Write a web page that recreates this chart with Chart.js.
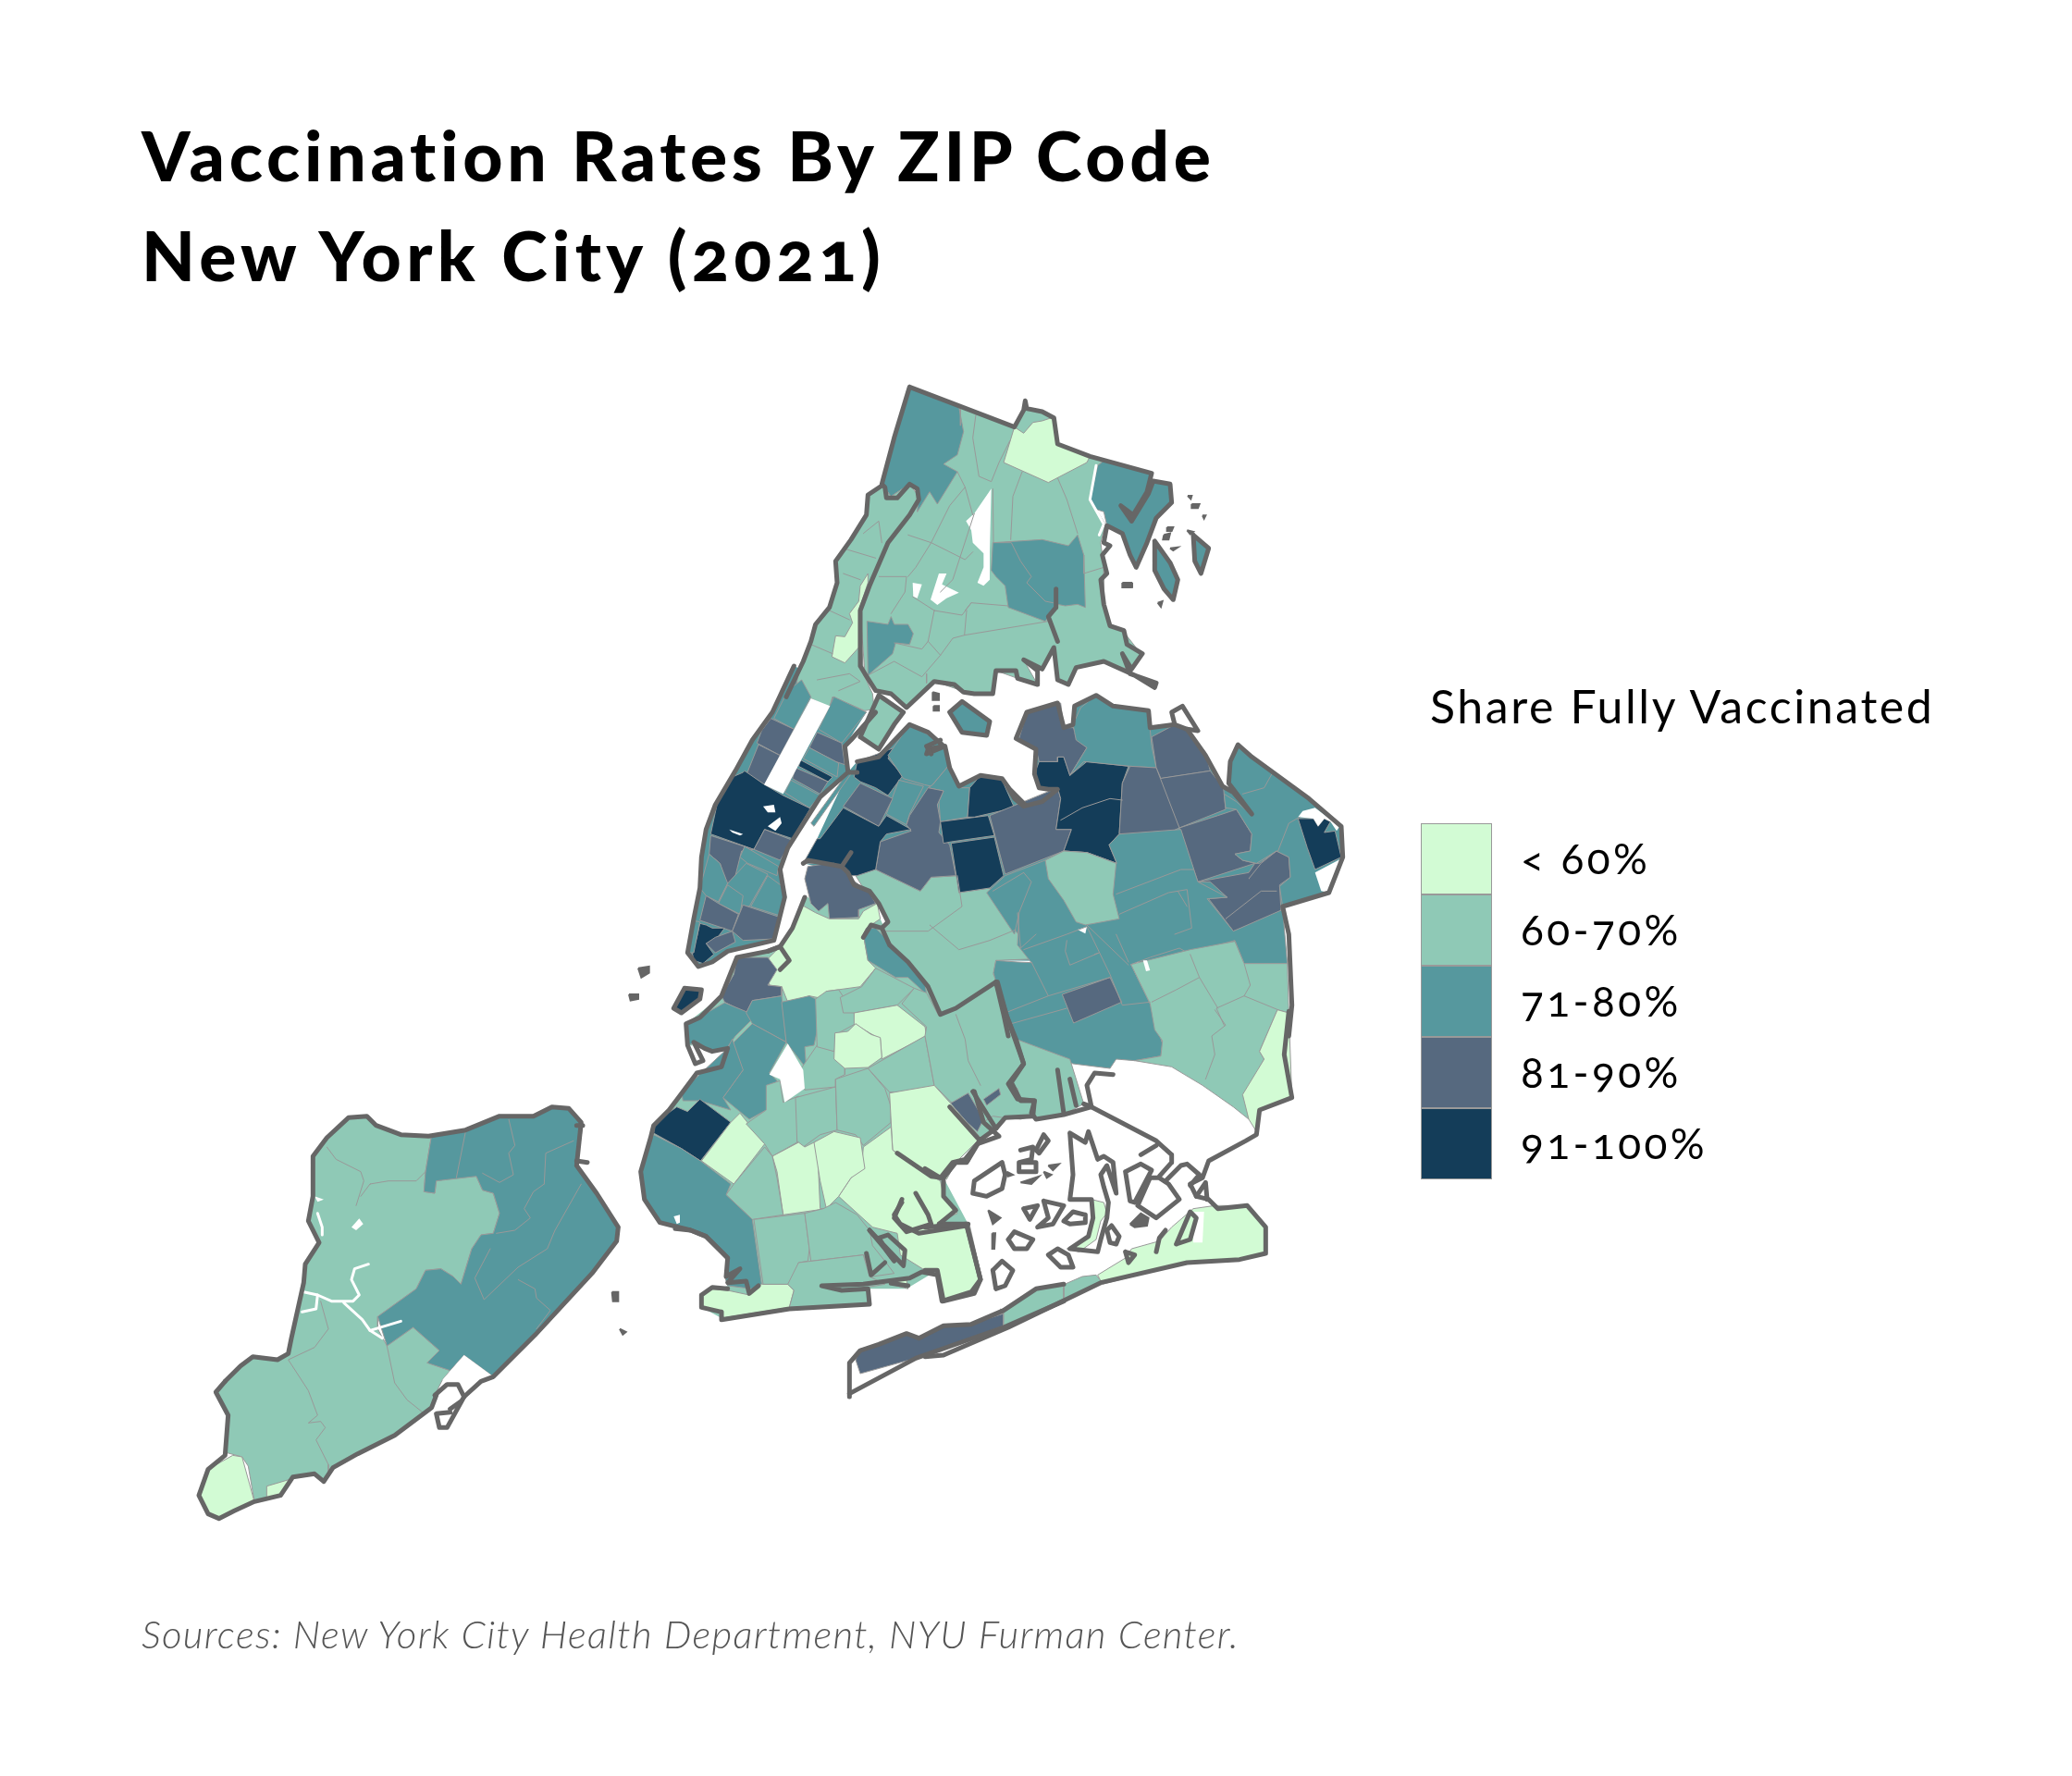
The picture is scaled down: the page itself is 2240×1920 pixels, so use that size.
<!DOCTYPE html>
<html>
<head>
<meta charset="utf-8">
<title>Vaccination Rates By ZIP Code</title>
<script src="https://cdn.jsdelivr.net/npm/chart.js@4"></script>
<style>
  html, body { margin: 0; background: #fff; }
  #page { position: relative; width: 2240px; height: 1920px; overflow: hidden; font-family: Lato, sans-serif; font-variant-numeric: oldstyle-nums; }
  #map { position: absolute; left: 0; top: 0; }
  .txt { position: absolute; white-space: nowrap; line-height: 1; color: #000; }
  .title { left: 153px; font-size: 75px; font-weight: 900; letter-spacing: 4.7px; }
  .ltitle { left: 1546px; top: 738px; font-size: 50px; letter-spacing: 2.6px; }
  .src { left: 153px; top: 1745px; font-size: 42px; font-style: italic; font-weight: 300; color: #555; letter-spacing: 1.3px; }
  .swatch { position: absolute; left: 1536px; width: 77px; height: 77px; box-sizing: border-box; border: 1px solid #999; }
  .lab { left: 1644px; font-size: 46px; letter-spacing: 3.4px; }
</style>
</head>
<body>
<div id="page">
  <canvas id="map" width="2240" height="1920"></canvas>
  <div class="txt title" style="top:130px">Vaccination Rates By ZIP Code</div>
  <div class="txt title" style="top:238px;letter-spacing:5.3px">New York City (2021)</div>
  <div class="txt ltitle">Share Fully Vaccinated</div>
  <div id="legend"></div>
  <div class="txt src">Sources: New York City Health Department, NYU Furman Center.</div>
</div>
<script>
/* legend bands */
const bandLabels = ['< 60%', '60-70%', '71-80%', '81-90%', '91-100%'];
const bandColors = ['#d2fbd4', '#8fc9b6', '#56989e', '#56697f', '#143d59'];

/* map units are reference-page units; each traced sheet has its own origin, traced at 3x */
const sheets = { A: [850, 400], B: [720, 720], C: [1000, 720], D: [680, 960], E: [1000, 1040], F: [200, 1180], G: [730, 1300] };

/* under-paint so the traced zones leave no slivers between them */
const boroughBases = [
  ['B', 2, '415,0 345,150 280,240 225,340 160,450 130,530 115,620 110,720 90,820 70,930 105,975 150,960 200,925 350,890 385,750 370,660 395,590 500,425 590,345 580,260 650,150 540,90 480,30'],
  ['C', 2, '-395,640 -350,560 -250,345 -220,310 -150,295 -50,190 60,250 75,325 110,390 180,355 250,365 290,430 320,455 380,440 430,400 370,395 355,350 360,270 295,235 330,150 430,120 450,200 480,190 485,130 555,95 610,130 725,145 730,200 810,190 850,205 910,290 965,390 1000,410 1060,480 1000,400 985,380 990,310 1015,255 1060,295 1245,430 1350,520 1355,620 1310,735 1160,780 1175,965 230,955 -225,680'],
  ['D', 1, '350,225 450,205 490,190 530,130 570,30 800,50 815,100 850,180 960,310 1005,415 1190,305 1225,415 1280,570 1240,630 1270,690 1315,690 1310,740 1220,745 1135,820 1060,890 1020,940 1100,1090 1145,1270 1120,1315 1020,1340 1000,1240 900,1300 780,1300 780,1350 520,1360 300,1395 235,1360 235,1320 320,1290 320,1200 250,1130 100,1085 50,1010 38,920 70,810 160,680 300,580 320,520 190,510 185,440 300,350']
];

/* [sheet, band, outline] painted in order, later ones on top */
const bronxZones = [
  ['A', 1, '400,55 740,185 770,130 830,135 868,155 880,240 985,280 1035,290 1010,310 985,420 1035,500 1020,560 1030,640 1030,760 1050,830 1095,850 1150,920 1120,975 1030,945 940,965 915,1020 880,1005 868,900 830,970 770,940 815,1020 750,1000 680,975 670,1050 610,1050 570,1040 480,1010 390,1095 340,1050 290,1040 255,985 240,780 270,700 330,560 400,470 430,420 425,385 400,370 340,410 310,370 350,220'],
  ['A', 2, '400,55 560,120 575,200 555,275 510,305 555,330 490,435 465,395 425,460 430,400 400,370 340,410 310,370 350,220'],
  ['A', 0, '740,185 770,205 800,170 830,165 860,155 868,155 880,240 985,280 975,300 850,365 705,300'],
  ['A', 2, '1035,290 1185,335 1170,400 1125,470 1175,400 1190,360 1245,370 1250,430 1200,480 1170,560 1130,640 1115,600 1090,530 1040,505 1030,460 1000,450 985,420 1010,310'],
  ['A', 2, '1320,535 1370,578 1345,660 1325,620'],
  ['A', 2, '1195,555 1245,625 1270,680 1255,745 1225,710 1195,650'],
  ['A', 2, '670,560 830,550 915,570 945,535 965,600 970,770 945,760 905,765 880,760 840,815 720,770 710,700 680,670 665,650'],
  ['A', 2, '262,815 330,825 340,800 350,825 395,825 412,855 400,890 355,885 345,920 265,990']
];
const manhattanZones = [
  ['A', 1, '310,375 265,405 260,470 210,550 160,620 165,690 140,770 95,825 80,880 55,945 40,980 30,1040 80,1065 140,1095 150,1060 255,1105 285,1100 280,1050 250,985 240,780 270,700 330,560 400,470 430,410 400,370 340,410'],
  ['A', 0, '265,660 240,700 235,750 205,790 215,820 190,865 160,862 148,930 190,950 235,900 235,780 265,690'],
  ['B', 1, '630,230 690,95 770,150 740,190 690,270'],
  ['B', 2, '440,45 470,100 415,205 350,170 395,80'],
  ['B', 3, '340,170 415,205 370,290 295,250 310,210'],
  ['B', 3, '300,255 370,290 320,385 262,350'],
  ['B', 2, '545,100 650,150 570,250 495,205'],
  ['B', 3, '490,215 570,250 580,320 550,310 465,265'],
  ['B', 2, '465,265 560,315 555,360 445,300'],
  ['B', 4, '437,305 540,360 525,375 430,325'],
  ['B', 3, '420,330 525,375 500,415 410,365'],
  ['B', 2, '405,370 500,420 465,460 385,410'],
  ['B', 4, '255,340 320,385 380,420 468,462 410,560 320,530 285,595 145,545 165,450 215,360 250,345'],
  ['B', 3, '145,550 285,595 245,600 240,620 220,700 195,705 175,640 140,610'],
  ['B', 3, '320,530 410,565 370,630 285,595'],
  ['B', 2, '255,585 365,650 360,680 265,640 240,620'],
  ['B', 2, '140,610 175,640 200,705 170,765 130,745 110,720'],
  ['B', 2, '260,640 330,675 270,780 170,765 200,705'],
  ['B', 2, '330,680 385,720 370,810 275,780'],
  ['B', 2, '200,710 250,745 240,805 170,770'],
  ['B', 3, '130,745 170,770 235,805 215,860 110,825'],
  ['B', 3, '250,775 370,815 350,885 250,890 215,860'],
  ['B', 4, '110,835 130,840 150,850 190,850 160,890 130,900 155,935 120,965 90,955 85,930 100,880'],
  ['B', 2, '85,825 110,830 90,930 75,930'],
  ['B', 3, '215,860 225,895 160,930 130,900 160,880'],
  ['B', 2, '470,510 590,345 600,350 480,520'],
  ['B', 4, '25,1110 60,1045 115,1050 110,1080 50,1125'],
  ['B', 2, '920,150 960,115 1050,180 1040,225 960,215']
];
const queensZones = [
  ['B', 1, '615,680 680,660 825,730 860,685 945,680 950,735 1050,720 1135,860 1200,950 1070,955 1062,1000 1075,1025 940,1115 890,1135 850,1040 785,960 725,905 700,850 720,830 690,770 640,720'],
  ['B', 4, '620,310 740,265 720,300 768,355 720,420 680,395 630,375 610,360'],
  ['B', 2, '720,290 790,190 900,250 915,325 860,390 838,385 770,365'],
  ['B', 2, '755,370 835,390 790,480 780,515 715,480'],
  ['B', 3, '630,380 735,430 690,520 575,455'],
  ['B', 2, '865,385 915,325 950,395 985,395 978,490 890,505 885,440 900,405 850,395'],
  ['B', 3, '850,395 900,405 880,450 890,505 885,540 920,580 940,680 860,685 825,730 700,670 680,660 695,570 795,535 780,515 790,485'],
  ['B', 4, '575,460 690,520 715,485 795,530 715,545 695,570 680,660 620,680 590,680 545,640 445,640 490,560 500,560'],
  ['B', 4, '890,505 1045,485 1065,550 925,570 900,575'],
  ['B', 4, '925,575 1065,555 1095,680 1050,720 950,735'],
  ['B', 4, '985,395 1020,355 1090,370 1130,460 1000,490 978,490'],
  ['C', 3, '210,485 430,395 440,430 425,530 475,530 450,600 260,675 240,600'],
  ['C', 4, '370,310 430,310 430,295 450,295 470,355 525,310 660,325 640,380 630,545 597,580 622,640 525,605 450,600 475,530 425,530 440,430 430,395 370,395 355,350'],
  ['C', 3, '305,235 330,150 440,120 450,200 480,200 525,265 470,355 450,295 430,295 430,310 370,310 360,270'],
  ['C', 2, '485,215 480,190 505,135 555,95 605,130 725,145 730,205 735,260 750,330 665,325 515,310 470,355 525,265 490,240'],
  ['C', 3, '735,230 810,190 850,205 910,280 925,340 765,365 750,330'],
  ['C', 3, '760,365 925,340 968,395 975,465 825,525 795,465'],
  ['C', 3, '665,325 750,330 825,525 770,550 630,545 640,380'],
  ['C', 3, '825,525 950,485 1010,465 1060,545 1055,600 1005,610 1030,630 1070,640 885,700'],
  ['C', 3, '885,700 1050,670 1070,640 1085,640 1140,600 1180,620 1185,685 1150,710 1155,800 1000,860 970,820 920,755 980,750 925,700'],
  ['C', 2, '1015,255 1060,295 1245,430 1350,520 1355,620 1310,735 1160,780 1150,715 1185,685 1180,620 1140,600 1075,640 1030,630 1005,610 1055,600 1060,545 1010,465 975,460 970,415 1010,440 1060,485 1005,400 985,380 990,310'],
  ['C', 4, '1210,495 1260,495 1275,520 1295,495 1315,505 1295,540 1330,535 1350,620 1265,660 1240,590'],
  ['C', 2, '200,735 260,680 390,630 450,600 525,605 622,640 597,580 630,545 830,530 885,700 980,750 915,755 1000,860 1160,790 1175,965 1035,965 1005,890 855,932 825,915 730,945 668,968 730,1095 750,1160 770,1225 765,1265 680,1280 620,1275 600,1305 480,1290 295,1210 260,1135 230,1025 222,995 230,955 300,960 345,962 300,905 305,800 290,870'],
  ['C', 1, '390,630 450,600 525,605 620,640 610,740 630,820 520,840 490,830 450,760 400,690'],
  ['C', 3, '445,1065 600,1010 638,1090 482,1158'],
  ['E', 1, '668,8 860,-40 1005,-67 1035,5 1175,5 1180,165 1143,155 1085,290 1100,315 1035,430 1050,510 1000,470 900,400 800,340 680,320 765,305 770,255 745,220 730,135'],
  ['E', 0, '1143,155 1180,165 1190,440 1085,480 1075,550 1050,510 1030,430 1100,315 1085,290'],
  ['E', 1, '295,250 470,315 515,460 450,495 360,510 345,480 355,450 310,460 300,410 270,395 300,345 320,330'],
  ['E', 0, '560,1015 650,960 670,930 760,905 800,860 870,800 940,790 1045,790 1105,860 1105,945 1020,965 850,975 575,1045'],
  ['E', 1, '250,1130 360,1060 430,1055 510,1020 555,1015 575,1040 270,1185 245,1125'],
  ['E', 0, '540,770 580,780 590,815 570,840 555,900 500,940 460,930 530,890 545,830'],
  ['G', 3, '600,475 660,460 750,425 790,440 870,400 960,395 1065,360 1065,400 780,505 600,555 585,510'],
  ['G', 1, '1065,350 1170,280 1260,265 1260,320 1065,405']
];
const brooklynZones = [
  ['B', 3, '460,650 530,640 580,660 600,690 660,735 680,770 625,790 625,815 530,820 525,770 495,795 470,770 450,690'],
  ['D', 0, '450,230 490,190 530,130 560,55 605,80 650,100 745,100 760,75 805,50 815,100 770,130 760,150 775,235 800,260 750,320 640,335 635,360 585,350 515,370 495,320 455,315'],
  ['D', 2, '770,130 800,130 850,180 905,240 960,310 965,345 905,290 865,290 775,235 760,150'],
  ['D', 3, '450,225 480,265 450,315 495,320 495,350 400,365 380,405 310,370 300,350 340,280 350,225'],
  ['D', 2, '190,440 310,372 390,405 400,425 345,480 320,515 270,530 220,500 190,510'],
  ['D', 2, '400,365 495,350 510,500 400,440 380,405'],
  ['D', 2, '495,370 585,350 605,360 615,440 600,510 570,515 575,585 510,500'],
  ['D', 2, '400,440 510,500 455,600 480,625 445,720 390,750 305,680 370,590 335,570 340,500'],
  ['D', 2, '335,490 370,590 305,680 330,720 230,690 175,690 170,660 250,585 320,520'],
  ['D', 4, '80,795 85,760 155,710 190,725 230,685 330,760 232,885 170,845'],
  ['D', 0, '330,760 360,730 440,830 340,960 235,885'],
  ['D', 1, '380,765 445,720 445,640 490,625 500,695 550,675 545,825 465,870 440,830'],
  ['D', 1, '540,680 670,645 675,785 620,800 565,840 545,820'],
  ['D', 1, '670,620 775,585 830,650 850,710 850,760 760,835 735,800 675,785'],
  ['D', 1, '555,590 610,510 665,530 700,565 700,605 670,620 670,645 570,655'],
  ['D', 1, '605,360 640,335 680,330 730,405 735,440 680,470 665,530 610,515'],
  ['D', 1, '685,355 755,320 800,260 925,325 870,380 730,405 695,405'],
  ['D', 0, '730,405 870,380 960,450 965,480 820,555 815,490 780,470 730,440'],
  ['D', 0, '668,470 710,465 735,440 785,475 815,485 820,550 775,582 700,585 665,555'],
  ['D', 1, '775,585 960,480 990,640 930,662 845,662'],
  ['D', 1, '925,325 965,340 1005,415 1080,380 1190,305 1225,415 1280,570 1240,620 1260,680 1315,690 1310,740 1270,750 1215,745 1180,740 1140,765 1040,690 990,640 960,480 965,450 885,375'],
  ['D', 3, '1040,700 1100,665 1150,750 1130,790 1040,710'],
  ['D', 3, '1150,685 1200,650 1205,670 1160,705'],
  ['D', 0, '845,665 990,640 1040,695 1140,810 1060,890 1030,945 965,930 870,860 855,850'],
  ['D', 0, '760,840 850,775 855,850 960,925 1010,950 1020,1000 1065,1055 1000,1085 1105,1095 1145,1270 1120,1315 1020,1340 1000,1240 960,1240 880,1190 870,1120 790,1100 680,1000 720,940 755,900'],
  ['D', 0, '465,870 550,825 570,840 610,820 620,1040 640,1040 500,1060 480,920'],
  ['D', 0, '600,825 665,790 750,810 765,910 720,940 680,1000 640,1040 620,950'],
  ['D', 1, '340,960 440,840 465,870 480,940 500,1060 400,1075 315,995'],
  ['D', 2, '80,800 170,845 232,885 330,960 315,995 400,1075 430,1285 400,1300 320,1290 310,1260 320,1200 250,1130 200,1110 100,1085 50,1010 38,920 60,840'],
  ['G', 0, '85,310 110,280 170,285 240,300 280,265 365,265 385,285 370,340 150,375 150,355 90,340'],
  ['G', 1, '255,55 420,35 435,150 430,190 400,195 385,265 285,265'],
  ['G', 1, '420,35 480,20 520,0 590,40 630,90 640,140 680,190 710,230 640,240 610,170 440,190'],
  ['G', 1, '400,195 610,170 630,240 680,265 620,275 630,330 370,340 385,285 365,265'],
  ['G', 0, '690,255 750,250 755,280 700,265']
];
const statenZones = [
  ['F', 1, '130,940 180,890 220,860 300,870 335,850 345,800 385,620 390,560 435,490 400,420 415,340 415,210 460,150 530,85 590,80 620,110 700,140 790,145 800,140 780,260 775,325 810,330 815,290 900,275 945,275 965,320 1000,330 1020,395 1000,460 960,465 930,510 895,625 870,600 830,575 780,580 750,640 625,730 625,770 655,825 740,765 825,840 790,880 860,905 835,935 810,985 800,1025 680,1115 560,1175 480,1220 450,1265 420,1240 350,1250 310,1310 225,1330 205,1215 185,1185 130,1170 140,1050 100,975'],
  ['F', 2, '800,140 910,125 1020,80 1130,80 1190,50 1245,55 1290,110 1270,240 1335,330 1410,440 1395,490 1320,590 1135,790 1000,925 905,855 860,905 785,880 825,840 740,765 655,825 625,730 750,640 780,580 830,575 870,600 895,625 930,510 960,465 1000,460 1020,395 1000,330 965,320 945,275 815,290 810,330 775,325 780,260'],
  ['F', 0, '155,1180 185,1185 225,1330 160,1360 110,1385 75,1370 50,1310 75,1225'],
  ['F', 0, '265,1280 350,1255 310,1310 265,1325']
];

/* parks and other areas with no data */
const noDataAreas = [
  ['A', '665,385 660,590 660,680 640,700 620,690 640,640 640,595 605,560 600,520 583,490 610,465'],
  ['A', '410,690 440,695 425,740 412,735'],
  ['A', '495,660 520,660 505,695 560,722 520,740 490,762 468,745'],
  ['B', '470,105 532,130 380,415 318,385'],
  ['B', '315,455 350,450 355,475 330,475'],
  ['B', '205,530 250,545 240,550 215,540'],
  ['B', '330,520 370,490 375,510 355,535'],
  ['C', '495,855 525,845 520,868'],
  ['C', '707,955 720,955 730,987 717,990'],
  ['C', '1225,470 1265,460 1345,520 1335,535 1315,505 1295,495 1275,520 1260,495 1210,490'],
  ['C', '1265,670 1350,625 1310,735 1285,730'],
  ['D', '515,505 565,590 570,650 505,695 490,620 455,605'],
  ['D', '205,505 250,535 245,560 215,570'],
  ['D', '145,1065 165,1060 165,1085 155,1090'],
  ['E', '870,810 905,810 900,910 870,910'],
  ['F', '540,440 565,412 578,430 555,450'],
  ['F', '420,340 450,350 430,358'],
  ['F', '905,855 1000,925 960,940 905,960 860,940 835,935']
];
const noDataStreams = [
  ['F', '385,650 430,660 475,680 545,680 565,660 540,610 550,575 595,560'],
  ['F', '430,660 425,705 380,715'],
  ['F', '515,685 575,740 600,775 640,800'],
  ['F', '600,775 650,760 700,745'],
  ['F', '430,395 445,440 445,465'],
  ['A', '1005,310 985,420 1030,500 1015,535']
];

/* thin ZIP lines that are not part of an outline above */
const zipLines = [
  ['A', '565,120 565,180'], ['A', '615,145 605,220 625,345 665,362 690,300 725,230'],
  ['A', '555,330 580,380 605,470'], ['A', '580,380 530,440 470,560 420,640 395,670'],
  ['A', '395,535 470,560 550,600 580,615 605,590'], ['A', '765,330 735,410 728,550'],
  ['A', '880,350 910,420 945,530'], ['A', '670,385 672,560'],
  ['A', '670,560 730,560 760,620 795,670 780,690 840,750 865,755'], ['A', '965,600 965,660 1030,640'],
  ['A', '300,670 390,670 385,720 340,790'], ['A', '480,780 460,880 500,925'],
  ['A', '585,780 578,860 850,815'], ['A', '578,860 540,870 500,925 440,995 350,945 265,990'],
  ['A', '350,885 440,905 460,880'], ['A', '580,780 600,755 720,765'], ['A', '480,780 570,795 600,755'],
  ['A', '410,735 480,780'], ['A', '455,985 455,1015'], ['A', '610,465 540,680 500,720'],
  ['A', '185,660 240,680'], ['A', '190,580 290,610'], ['A', '140,780 205,810'], ['A', '80,890 150,920'],
  ['A', '250,530 300,490 310,560'], ['A', '100,1005 205,985 240,1010 170,1040'],
  ['C', '620,740 830,660 870,660'], ['C', '630,805 790,735 850,725 865,850 810,870'],
  ['C', '820,730 850,780'], ['C', '320,920 460,870 525,845 600,1000 640,1100 730,1090'],
  ['C', '525,840 660,970'], ['C', '345,960 400,1070'], ['C', '260,1125 400,1070 600,1010'],
  ['C', '280,1160 460,1110'], ['C', '620,870 660,960'], ['C', '305,800 345,700 320,670'],
  ['C', '460,890 455,925 470,970 565,930 550,935'], ['C', '440,500 510,460 600,430 640,435'],
  ['C', '1030,415 1100,395 1125,350'], ['C', '1145,600 1180,510 1215,490'],
  ['C', '1050,690 1090,640 1140,600'], ['C', '975,820 1090,730 1140,730'],
  ['C', '860,935 890,1010 950,1110'], ['C', '1035,965 1055,1035 1035,1070 945,1110 970,1165'],
  ['C', '1035,1070 1145,1115'], ['C', '735,1090 815,1050 890,1010'],
  ['E', '940,155 975,205 930,240 940,300 910,380'],
  ['B', '700,860 850,860 960,780 945,680'], ['B', '855,840 950,920 1050,890 1135,855'],
  ['B', '1140,800 1150,915 1200,870'], ['B', '1060,730 1160,670'],
  ['D', '1060,410 1090,490 1100,560 1140,640'],
  ['F', '460,180 490,220 570,260 580,290 555,370'], ['F', '600,300 660,290 750,290 780,260'],
  ['F', '600,300 570,340'], ['F', '880,280 910,130'],
  ['F', '1050,90 1070,175 1050,200 1065,270 1020,295 965,265'],
  ['F', '1165,300 1170,200 1260,160'], ['F', '1165,300 1130,325 1100,380 1120,410 1070,450 1010,460'],
  ['F', '1285,300 1200,450 1175,510 1080,570 970,675 940,605 990,510'],
  ['F', '1080,610 1135,640 1140,670 1185,710 1140,770'],
  ['F', '440,680 465,770 420,830 335,870 400,970 430,1050 400,1075 440,1070 455,1090 425,1130 465,1210 465,1245'],
  ['F', '655,825 680,945 720,1000 770,1040']
];

/* heavy shoreline, open or closed */
const shoreLines = [
  ['A', '400,55 740,185 770,130 775,100 780,125 830,135 868,155 880,240 985,280 1185,335 1170,395 1125,470 1085,440 1120,490 1175,400 1190,360 1245,370 1250,430 1200,480 1170,560 1135,640 1115,600 1090,530 1040,505 1030,560 1050,570 1025,600 1040,660 1020,680 1030,760 1050,830 1095,845 1105,890 1155,920 1120,970 1090,920 1115,985 1200,1015 1195,1030 1130,990 1030,945 940,965 915,1020 880,1005 868,900 830,970 770,940 815,975 815,1020 750,1000 745,975 680,975 670,1050 610,1050 575,1045 545,1020 480,1010 390,1095 340,1050 290,1040 255,985 240,960 240,780 270,700 330,560 400,470 430,420 425,385 400,370 360,415 325,415 320,380 310,370 350,220 400,55'],
  ['A', '310,375 265,405 260,470 210,550 160,620 165,690 140,770 95,825 80,880 55,945 0,1060'],
  ['A', '875,710 875,770 850,800 880,880'],
  ['A', '1320,535 1370,578 1345,660 1325,620 1320,535'],
  ['A', '1195,555 1245,625 1270,680 1255,745 1225,710 1195,650 1195,555'],
  ['B', '415,0 345,150 280,240 225,340 160,450 130,530 115,620 110,720 90,820 70,930 105,975 150,960 200,925 350,890 385,750 370,660 395,590 500,425 590,345 620,345'],
  ['B', '680,150 600,240 580,260 590,340'],
  ['B', '630,230 690,95 770,150 740,190 690,270 630,230'],
  ['B', '25,1110 60,1045 115,1050 110,1080 50,1125 25,1110'],
  ['B', '920,150 960,115 1050,180 1040,225 960,215 920,150'],
  ['B', '620,310 690,295 790,190 850,215 900,260 850,270 845,285 905,260 920,330 950,390 1020,355 1090,365 1115,400 1165,450'],
  ['B', '445,640 460,630 570,650 590,670 610,710 660,730 690,770 720,830 700,850 725,905 785,960 850,1040 890,1130 940,1110 1070,1025 1095,1130 1110,1200'],
  ['B', '570,650 600,605'], ['B', '640,880 665,840 700,850'], ['B', '860,285 845,260 890,240'],
  ['C', '270,395 290,430 320,455 380,440 430,400 400,400 370,395 355,350 360,270 295,235 330,150 430,120 450,200 480,190 485,130 555,95 610,130 725,145 730,200 810,190 850,205 910,290 965,390 1000,410 1060,480 1000,400 985,380 990,310 1015,255 1060,295 1245,430 1350,520 1355,620 1310,735 1160,780 1180,870 1190,1100 1180,1200'],
  ['C', '810,190 800,150 835,130 885,210 850,205'],
  ['E', '1180,160 1165,300 1190,440 1085,480 1075,560 1040,580 920,645 900,700 860,720 880,760 920,770 950,800 1045,790 1105,860 1105,945 1020,965 850,975 570,1040 270,1185 60,1275 0,1280'],
  ['D', '570,30 530,130 490,190 450,205 350,225 300,350 230,420 185,440 190,510 215,570 240,560 210,500 245,520 270,530 320,520 300,580 220,600 160,680 130,720 80,770 70,810 38,920 50,1010 100,1085 200,1110 250,1130 320,1200'],
  ['D', '450,205 490,190 520,235 490,265'],
  ['D', '1190,305 1225,415 1280,570 1240,630 1270,690 1315,690 1310,740 1220,745 1190,780 1135,820'],
  ['D', '870,860 980,935 1020,940 1060,890 1095,890 1140,815'],
  ['D', '930,990 970,1060 980,1090 900,1115 860,1070 885,1010'],
  ['D', '780,1110 830,1170 860,1210'], ['D', '1020,950 1020,1000 1060,1045 1005,1090 1100,1090'],
  ['D', '1115,660 1190,780'], ['D', '1040,710 1130,810'],
  ['G', '0,85 50,90 100,110 150,160 170,180 165,240 210,215 170,260 230,255 240,295 270,270'],
  ['G', '170,280 120,275 85,300 85,340 150,355 150,380 370,345 630,330 625,280 540,285 475,270 610,265 760,245 800,225 850,235 865,320 960,290 990,250 945,75 790,100 730,70 710,40 735,0'],
  ['G', '630,90 740,205 745,155 690,105 660,115 700,175'], ['G', '620,165 635,235 680,195'],
  ['G', '755,270 700,262'],
  ['G', '565,630 565,520 600,480 660,460 750,425 790,440 870,400 960,395 1065,350 1170,280 1260,265'],
  ['G', '565,620 780,505 1065,405 1260,320'],
  ['E', '0,670 50,700 90,650 130,640 170,590 240,565 190,520 160,420'],
  ['E', '0,860 135,850 180,1030 160,1075 60,1100 40,1000 0,1000'],
  ['E', '235,65 265,175 295,250 320,330 270,395 300,445 355,450 345,490 360,510 450,495 540,470 750,580 800,625 800,650 760,695'],
  ['E', '700,625 750,595'], ['E', '515,460 540,470 525,400 550,360 610,365'],
  ['E', '430,350 450,490'], ['E', '470,380 490,465'],
  ['E', '155,750 160,710 250,650 260,690 250,735 200,760 155,750'],
  ['E', '220,1000 250,970 285,1000 260,1050 230,1060 220,1000'],
  ['E', '270,900 290,875 350,900 330,930 290,930 270,900'],
  ['E', '590,870 605,855 630,890 620,915 600,910 590,870'],
  ['E', '470,555 520,585 530,550 560,640 580,630 610,650 620,750 590,660 570,690 580,730 595,780 590,830 570,900 560,940 470,930 530,890 545,830 540,770 470,770 480,690 470,555'],
  ['E', '650,680 700,655 735,675 680,780 665,775 650,680'],
  ['E', '690,790 730,700 760,700 790,720 825,770 750,830 690,790'],
  ['E', '780,710 830,660 850,655 890,690 860,725'], ['E', '880,760 910,715 915,770'],
  ['E', '310,610 350,600 345,640 305,650 305,680 360,680 360,650 305,650'],
  ['E', '360,610 385,560 400,580 370,620 360,610'],
  ['E', '320,800 365,790 340,835 320,800'], ['E', '385,775 450,790 415,850 365,860 400,830 385,775'],
  ['E', '450,840 480,810 520,820 520,845 470,850 450,840'],
  ['E', '400,950 430,930 465,950 480,990 440,990 400,950'],
  ['E', '750,940 760,895 780,870'], ['E', '815,915 860,810 880,830 860,900 815,915'],
  ['E', '650,940 680,950 660,975 650,940'],
  ['F', '130,940 180,890 220,860 300,870 335,850 345,800 385,620 390,560 435,490 400,420 415,340 415,210 460,150 530,85 590,80 620,110 700,140 790,145 910,125 1020,80 1130,80 1190,50 1245,55 1285,100 1270,240 1335,330 1405,440 1400,485 1320,590 1135,790 1000,925 960,940 905,990 850,1090 825,1090 815,1045 860,1040'],
  ['F', '810,985 850,950 885,950 905,990'], ['F', '815,985 800,1025 680,1115 560,1175 480,1220 450,1265 420,1240 350,1250 310,1310 225,1330 160,1360 110,1385 75,1370 45,1310 75,1225 130,1180 140,1050 100,975 130,940'],
  ['F', '1270,110 1290,110'], ['F', '1270,225 1305,230'], ['F', '860,1030 895,1005']
];

/* little islands too small to show as a ring */
const islets = [
  ['A', '1090,690 1120,690 1122,705 1090,705'], ['A', '1205,755 1220,750 1215,768'], ['A', '1235,510 1255,510 1250,522 1235,522'],
  ['A', '1225,535 1245,530 1240,550 1222,550'], ['A', '1300,520 1320,525 1310,532'], ['A', '1315,435 1340,435 1335,448 1315,448'],
  ['A', '1350,472 1360,472 1355,482'], ['A', '1302,408 1315,408 1312,418'], ['A', '1245,578 1270,575 1255,585'],
  ['B', '865,85 885,90 885,110 865,110'], ['B', '868,130 885,130 885,145 868,145'],
  ['D', '30,260 65,255 65,275 40,290'], ['D', '0,345 30,345 30,360 5,365'],
  ['D', '1100,890 1090,880 1105,880'], ['E', '665,850 700,815 725,830 720,855 680,860'],
  ['E', '205,805 245,830 220,850'], ['E', '310,715 370,695 345,720'], ['E', '400,660 435,655 415,675'],
  ['E', '385,680 410,690 395,700'], ['E', '265,680 285,690 270,695'], ['E', '218,880 228,880 225,930 218,930'],
  ['F', '1385,650 1405,650 1405,680 1388,680'], ['F', '1410,770 1430,780 1420,788']
];

function toPoints(sheet, outline) {
  const [ox, oy] = sheets[sheet];
  return outline.split(' ').map(p => {
    const [x, y] = p.split(',').map(Number);
    return { x: ox + x / 3, y: oy + y / 3 };
  });
}
function closed(pts) { return pts.concat([pts[0]]); }

function fillSet(pts, color, edge, width) {
  return { data: closed(pts), showLine: true, fill: 'shape', backgroundColor: color, borderColor: edge, borderWidth: width, pointRadius: 0 };
}
function lineSet(pts, color, width) {
  return { data: pts, showLine: true, fill: false, borderColor: color, borderWidth: width, pointRadius: 0, borderJoinStyle: 'round', borderCapStyle: 'round' };
}

const datasets = [];
boroughBases.forEach(([s, band, o]) => datasets.push(fillSet(toPoints(s, o), bandColors[band], bandColors[band], 0)));
[bronxZones, manhattanZones, queensZones, brooklynZones, statenZones].forEach(group => {
  group.forEach(([s, band, o]) => datasets.push(fillSet(toPoints(s, o), bandColors[band], '#999', 1)));
});
noDataAreas.forEach(([s, o]) => datasets.push(fillSet(toPoints(s, o), '#fff', '#fff', 0)));
noDataStreams.forEach(([s, o]) => datasets.push(lineSet(toPoints(s, o), '#fff', 3)));
zipLines.forEach(([s, o]) => datasets.push(lineSet(toPoints(s, o), '#999', 1)));
shoreLines.forEach(([s, o]) => datasets.push(lineSet(toPoints(s, o), '#666', 5)));
islets.forEach(([s, o]) => datasets.push(fillSet(toPoints(s, o), '#666', '#666', 2)));
// chart.js paints the first dataset last, so flip to get the paint order above
datasets.reverse();

new Chart(document.getElementById('map'), {
  type: 'scatter',
  data: { datasets },
  options: {
    responsive: false, animation: false, devicePixelRatio: 1,
    layout: { padding: 0 },
    plugins: { legend: { display: false }, tooltip: { enabled: false } },
    elements: { line: { tension: 0 } },
    scales: {
      x: { type: 'linear', min: 0, max: 2240, display: false },
      y: { type: 'linear', min: 0, max: 1920, reverse: true, display: false }
    }
  }
});

/* Legend */
const legend = document.getElementById('legend');
const swatchTops = [890, 967, 1044, 1121, 1198];
bandLabels.forEach((lab, i) => {
  const sw = document.createElement('div');
  sw.className = 'swatch';
  sw.style.top = swatchTops[i] + 'px';
  sw.style.background = bandColors[i];
  legend.appendChild(sw);
  const t = document.createElement('div');
  t.className = 'txt lab';
  t.textContent = lab;
  t.style.top = (swatchTops[i] + 15) + 'px';
  legend.appendChild(t);
});
</script>
</body>
</html>
